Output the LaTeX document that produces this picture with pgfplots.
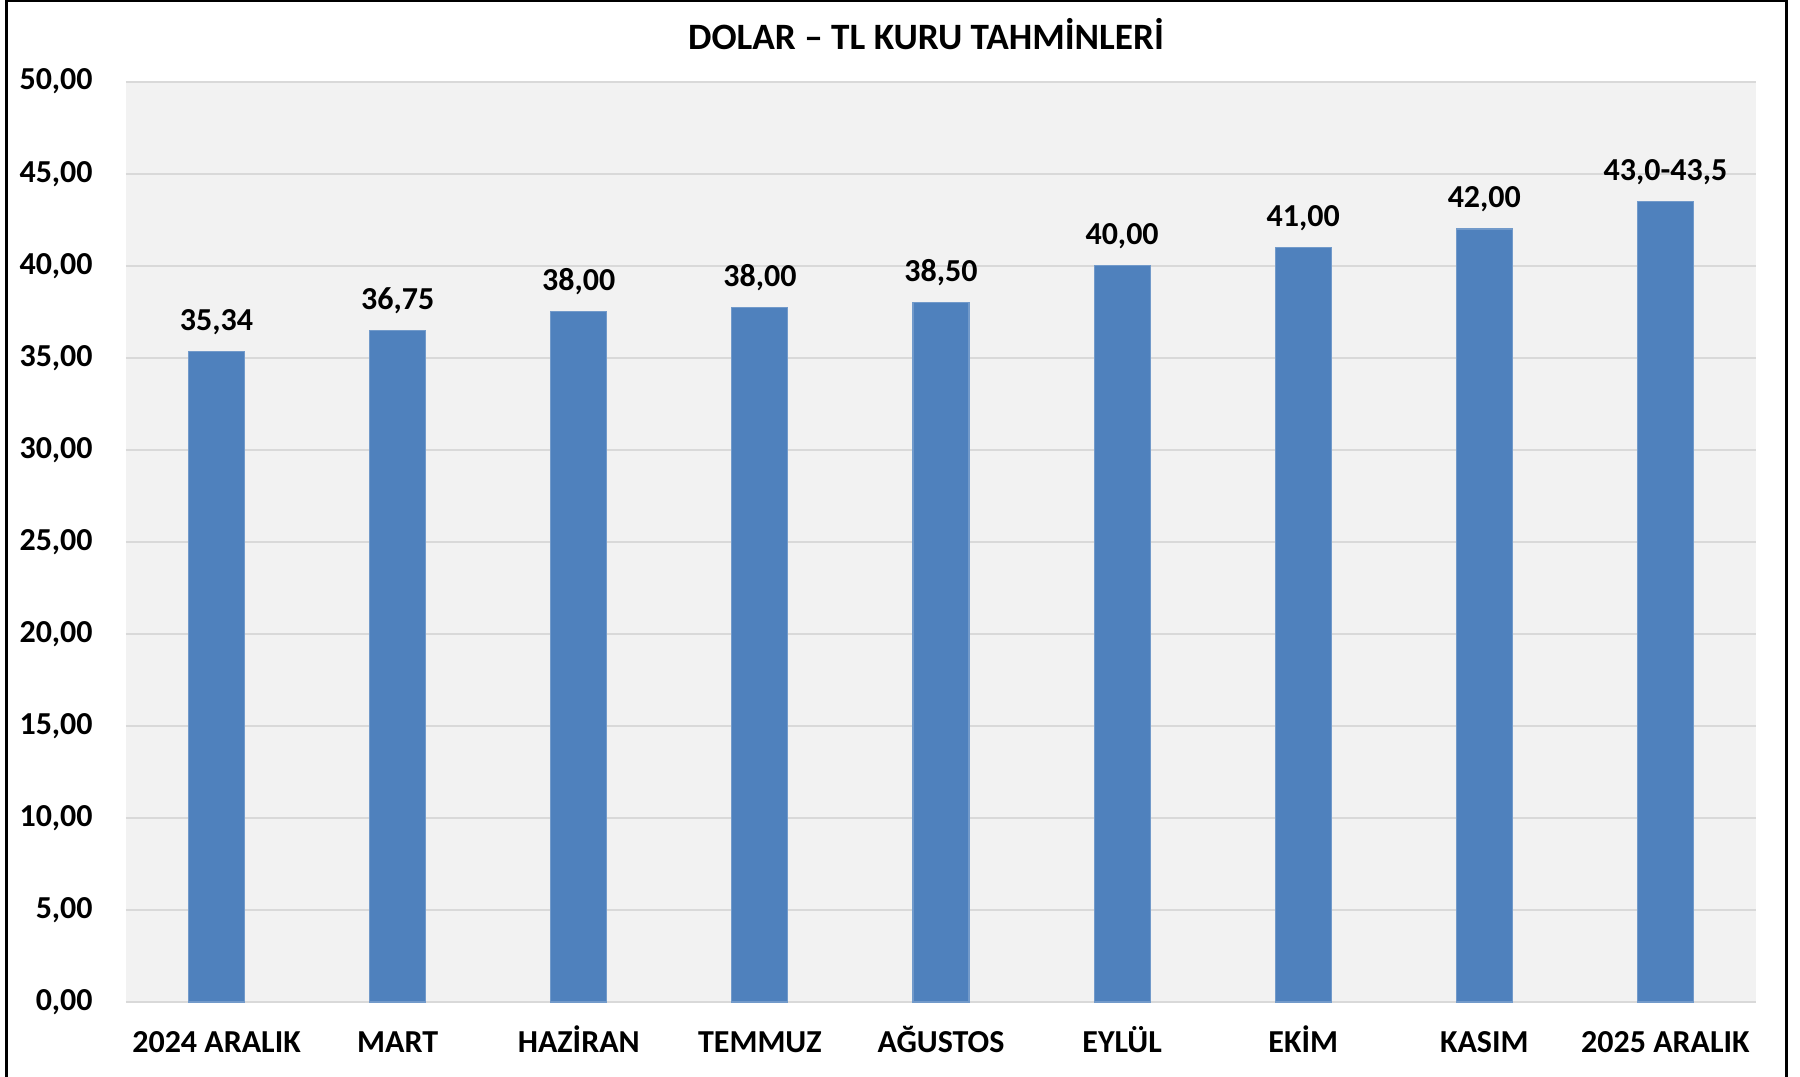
\documentclass[border=0pt]{standalone}
\usepackage{fontspec}
\setmainfont{Carlito}
\usepackage{pgfplots}
\pgfplotsset{compat=1.18}
\usepackage{pgfplotstable}
\definecolor{barblue}{HTML}{4F81BD}
\definecolor{gridgray}{HTML}{D9D9D9}
\definecolor{bggray}{HTML}{F2F2F2}
\pgfplotstableread[col sep=space]{
x y lab
0 35.34 35,34
1 36.50 36,75
2 37.50 38,00
3 37.75 38,00
4 38.00 38,50
5 40.00 40,00
6 41.00 41,00
7 42.00 42,00
8 43.50 43,0-43,5
}\datatable
\begin{document}
\begin{tikzpicture}
\useasboundingbox (0,0) rectangle (450pt,-269pt);
\begin{axis}[
  at={(31.5pt,-250.5pt)}, anchor=south west,
  scale only axis, width=407.5pt, height=230.1pt,
  xmin=-0.5, xmax=8.5, ymin=0, ymax=50,
  ytick={0,5,...,50},
  xtick=data,
  xticklabels={2024 ARALIK, MART, HAZİRAN, TEMMUZ, AĞUSTOS, EYLÜL, EKİM, KASIM, 2025 ARALIK},
  major tick length=0pt,
  axis line style={draw=none},
  ymajorgrids, grid style={draw=gridgray, line width=0.5pt},
  axis background/.style={fill=bggray},
  /pgf/number format/.cd, fixed, fixed zerofill, precision=2, use comma, assume math mode=true,
  /pgfplots/.cd,
  ticklabel style={font=\bfseries\fontsize{8}{10}\selectfont},
  yticklabel style={xshift=-4.8pt},
  xticklabel style={anchor=south, inner sep=0pt, text height=5.1pt, text depth=0pt, yshift=-12.9pt},
  ybar, bar width=14pt,
  nodes near coords={\pgfplotspointmeta},
  point meta=explicit symbolic,
  nodes near coords style={anchor=south, inner sep=0pt, text height=5.1pt, text depth=0pt, yshift=5.1pt, font=\bfseries\fontsize{8}{10}\selectfont, text=black},
]
\addplot[fill=barblue, draw=barblue!80!white, line width=0.3pt, bar shift=0pt] table[x=x, y=y, meta=lab] {\datatable};
\end{axis}
\node[font=\bfseries\fontsize{9.3}{11}\selectfont, anchor=center] at (231.5pt,-8.4pt) {DOLAR – TL KURU TAHMİNLERİ};
\draw[line width=0.55pt] (1.6pt,-290pt) -- (1.6pt,-0.3pt) -- (446.6pt,-0.3pt) -- (446.6pt,-290pt);
\end{tikzpicture}
\end{document}
